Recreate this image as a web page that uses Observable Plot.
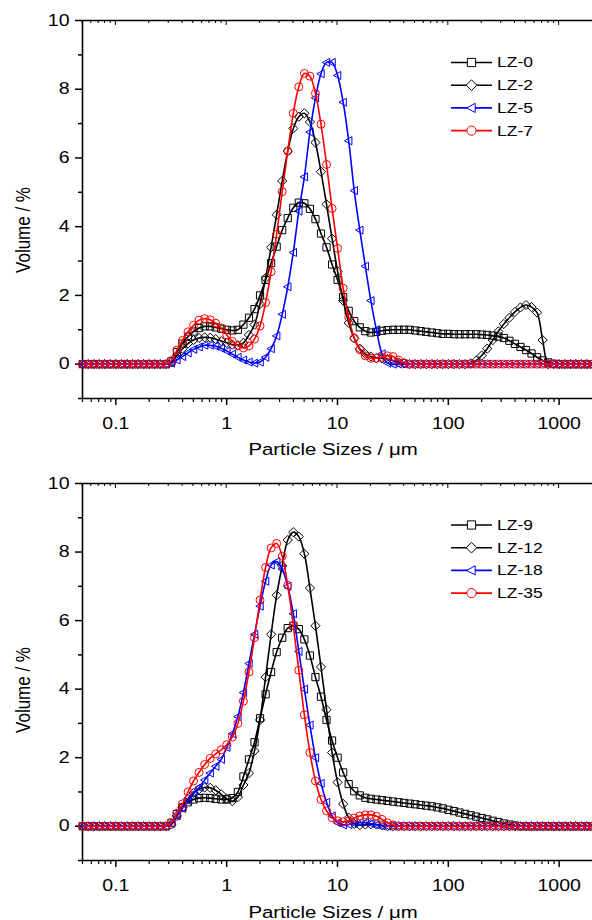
<!DOCTYPE html>
<html><head><meta charset="utf-8">
<script src="https://cdn.jsdelivr.net/npm/d3@7"></script>
<script src="https://cdn.jsdelivr.net/npm/@observablehq/plot@0.6"></script>
<style>body{margin:0;background:#fff} #chart svg{display:block}</style>
</head><body><div id="chart"></div>
<script>
// particle size grid (µm)
const sizes = [
0.0502,0.0564,0.0632,0.0710,0.0796,0.0893,0.1002,0.1125,0.1262,0.1416,
0.1589,0.1783,0.2000,0.2244,0.2518,0.2825,0.3170,0.3557,0.3991,0.4477,
0.5024,0.5637,0.6325,0.7096,0.7962,0.8934,1.002,1.125,1.262,1.416,
1.589,1.783,2.000,2.244,2.518,2.825,3.170,3.557,3.991,4.477,
5.024,5.637,6.325,7.096,7.962,8.934,10.02,11.25,12.62,14.16,
15.89,17.83,20.00,22.44,25.18,28.25,31.70,35.57,39.91,44.77,
50.24,56.37,63.25,70.96,79.62,89.34,100.2,112.5,126.2,141.6,
158.9,178.3,200.0,224.4,251.8,282.5,317.0,355.7,399.1,447.7,
502.4,563.7,632.5,709.6,796.2,893.4,1002,1125,1262,1416,
1589,1783,2000];

// top panel (Volume %)
const lz0 = [
0,0,0,0,0,0,0,0,0,0,
0,0,0,0,0,0,0.08,0.35,0.6,0.8,
0.95,1.05,1.1,1.1,1.07,1.03,1.0,0.98,1.0,1.15,
1.35,1.6,2.0,2.45,2.94,3.42,3.9,4.25,4.55,4.7,
4.68,4.52,4.22,3.8,3.4,2.9,2.45,1.95,1.55,1.25,
1.07,0.96,0.92,0.94,0.97,0.99,1.0,1.0,1.0,1.0,
0.98,0.96,0.94,0.92,0.9,0.88,0.88,0.87,0.87,0.87,
0.87,0.87,0.86,0.85,0.83,0.8,0.76,0.68,0.59,0.5,
0.41,0.31,0.2,0.11,0.05,0.01,0,0,0,0,
0,0,0];
const lz2 = [
0,0,0,0,0,0,0,0,0,0,
0,0,0,0,0,0,0.05,0.25,0.45,0.6,
0.7,0.76,0.78,0.77,0.73,0.67,0.62,0.57,0.55,0.62,
0.85,1.15,1.75,2.5,3.4,4.35,5.33,6.2,6.86,7.2,
7.3,7.05,6.45,5.6,4.65,3.65,2.7,1.85,1.2,0.75,
0.45,0.3,0.22,0.18,0.17,0.15,0.1,0.05,0.02,0,
0,0,0,0,0,0,0,0,0,0,
0.02,0.1,0.25,0.45,0.7,0.95,1.17,1.35,1.52,1.65,
1.72,1.66,1.5,0.7,0,0,0,0,0,0,
0,0,0];
const lz5 = [
0,0,0,0,0,0,0,0,0,0,
0,0,0,0,0,0,0.03,0.12,0.22,0.33,
0.43,0.5,0.55,0.55,0.52,0.46,0.38,0.29,0.2,0.12,
0.06,0.03,0.06,0.2,0.45,0.82,1.45,2.25,3.25,4.45,
5.45,6.75,7.75,8.45,8.78,8.78,8.4,7.62,6.5,5.05,
3.9,2.85,1.85,1.0,0.3,0.03,0,0,0,0,
0,0,0,0,0,0,0,0,0,0,
0,0,0,0,0,0,0,0,0,0,
0,0,0,0,0,0,0,0,0,0,
0,0,0];
const lz7 = [
0,0,0,0,0,0,0,0,0,0,
0,0,0,0,0,0,0.1,0.41,0.69,0.94,
1.13,1.28,1.32,1.29,1.19,1.05,0.85,0.66,0.53,0.47,
0.53,0.73,1.11,1.79,2.69,3.78,5.02,6.2,7.3,8.07,
8.46,8.38,7.88,6.98,5.81,4.53,3.37,2.21,1.36,0.76,
0.42,0.24,0.17,0.17,0.2,0.24,0.22,0.12,0.04,0,
0,0,0,0,0,0,0,0,0,0,
0,0,0,0,0,0,0,0,0,0,
0,0,0,0,0,0,0,0,0,0,
0,0,0];

// bottom panel (Volume %)
const lz9 = [
0,0,0,0,0,0,0,0,0,0,
0,0,0,0,0,0,0.1,0.35,0.55,0.7,
0.78,0.82,0.83,0.82,0.8,0.78,0.78,0.82,1.0,1.45,
1.95,2.45,3.15,3.85,4.5,5.08,5.5,5.78,5.85,5.75,
5.45,4.98,4.35,3.78,3.1,2.5,2.0,1.57,1.23,1.02,
0.9,0.83,0.8,0.78,0.76,0.74,0.72,0.7,0.68,0.66,
0.64,0.62,0.6,0.58,0.55,0.52,0.48,0.44,0.4,0.36,
0.32,0.28,0.24,0.2,0.16,0.12,0.08,0.05,0.02,0,
0,0,0,0,0,0,0,0,0,0,
0,0,0];
const lz12 = [
0,0,0,0,0,0,0,0,0,0,
0,0,0,0,0,0,0.05,0.3,0.55,0.8,
0.97,1.08,1.13,1.12,1.05,0.93,0.8,0.73,0.85,1.2,
1.55,2.2,3.1,4.35,5.6,6.74,7.6,8.35,8.58,8.45,
7.95,6.95,5.85,4.65,3.4,2.15,1.28,0.65,0.25,0.07,
0.03,0.05,0.06,0.05,0.03,0,0,0,0,0,
0,0,0,0,0,0,0,0,0,0,
0,0,0,0,0,0,0,0,0,0,
0,0,0,0,0,0,0,0,0,0,
0,0,0];
const lz18 = [
0,0,0,0,0,0,0,0,0,0,
0,0,0,0,0,0,0.08,0.3,0.52,0.75,
0.95,1.13,1.35,1.55,1.75,1.95,2.3,2.7,3.2,3.9,
4.75,5.6,6.42,7.15,7.62,7.72,7.5,7.0,6.2,5.1,
4.0,2.95,2.0,1.25,0.7,0.3,0.1,0.04,0.05,0.08,
0.1,0.1,0.08,0.04,0.01,0,0,0,0,0,
0,0,0,0,0,0,0,0,0,0,
0,0,0,0,0,0,0,0,0,0,
0,0,0,0,0,0,0,0,0,0,
0,0,0];
const lz35 = [
0,0,0,0,0,0,0,0,0,0,
0,0,0,0,0,0,0.1,0.38,0.65,1.0,
1.32,1.57,1.8,1.98,2.11,2.23,2.38,2.6,3.0,3.65,
4.5,5.5,6.6,7.55,8.12,8.25,7.88,7.03,5.85,4.55,
3.25,2.15,1.32,0.78,0.45,0.25,0.16,0.13,0.16,0.24,
0.3,0.33,0.33,0.29,0.2,0.1,0.04,0,0,0,
0,0,0,0,0,0,0,0,0,0,
0,0,0,0,0,0,0,0,0,0,
0,0,0,0,0,0,0,0,0,0,
0,0,0];

const topNames = ["LZ-0","LZ-2","LZ-5","LZ-7"];
const botNames = ["LZ-9","LZ-12","LZ-18","LZ-35"];
const colors = ["#000000","#000000","#0000ff","#ff0000"];
const yTicks = [0,2,4,6,8,10];
const yMinor = [-1,1,3,5,7,9];
const xTicks = [0.1,1,10,100,1000];
const xTickLabels = ["0.1","1","10","100","1000"];
const xTitle = "Particle Sizes / \u03bcm";
const yTitle = "Volume / %";

// minor log ticks
const xMinor = [];
for (const dec of [0.01,0.1,1,10,100,1000]) for (let m = 2; m <= 9; m++) {
  const v = +(dec*m).toPrecision(3);
  if (v >= 0.05 && v < 2000) xMinor.push(v);
}

// hollow marker shapes
const symSquare = {draw(c, s){ const r = Math.sqrt(s/Math.PI), h = 0.9*r;
  c.moveTo(-h,-h); c.lineTo(h,-h); c.lineTo(h,h); c.lineTo(-h,h); c.closePath(); }};
const symDiamond = {draw(c, s){ const r = Math.sqrt(s/Math.PI), h = 1.15*r;
  c.moveTo(0,-h); c.lineTo(h,0); c.lineTo(0,h); c.lineTo(-h,0); c.closePath(); }};
const symTriLeft = {draw(c, s){ const r = Math.sqrt(s/Math.PI);
  c.moveTo(-1.05*r,0); c.lineTo(0.8*r,-r); c.lineTo(0.8*r,r); c.closePath(); }};
const symCircle = {draw(c, s){ const r = Math.sqrt(s/Math.PI);
  c.moveTo(r,0); c.arc(0,0,r,0,2*Math.PI); c.closePath(); }};
const symbols = [symSquare, symDiamond, symTriLeft, symCircle];

const FONT = '"Liberation Sans", Arial, sans-serif';
const measureCtx = document.createElement("canvas").getContext("2d");
function stretchText(svg, s, size) {
  measureCtx.font = `${size}px "Liberation Sans", Arial, sans-serif`;
  svg.querySelectorAll("text").forEach(t => {
    const str = t.textContent;
    if (!str) return;
    const w = measureCtx.measureText(str).width;
    t.setAttribute("textLength", (w * s).toFixed(2));
    t.setAttribute("lengthAdjust", "spacingAndGlyphs");
  });
}

function panel(series, names, mt, mb, legendY0, titleY) {
  const marks = [
    Plot.ruleY([-1], {stroke: "#000", strokeWidth: 1.6}),
    Plot.ruleY([10], {stroke: "#000", strokeWidth: 1.6}),
    Plot.ruleX([0.05], {stroke: "#000", strokeWidth: 1.6}),
    Plot.axisY({ticks: yTicks, tickSize: 7, tickPadding: 6, tickFormat: d => String(d), label: null, strokeWidth: 1.5}),
    Plot.axisY({ticks: yMinor, tickSize: 4, tickPadding: 6, tickFormat: () => "", label: null, strokeWidth: 1.5}),
    Plot.axisX({ticks: xTicks, tickSize: 7, tickPadding: 12, tickFormat: d => xTickLabels[xTicks.indexOf(d)], label: null, strokeWidth: 1.5}),
    Plot.axisX({ticks: xMinor, tickSize: 4, tickPadding: 12, tickFormat: () => "", label: null, strokeWidth: 1.2})
  ];
  series.forEach((vals, k) => {
    const data = sizes.map((s, i) => ({s, v: vals[i]}));
    marks.push(Plot.line(data, {x: "s", y: "v", stroke: colors[k], strokeWidth: 1.6, curve: "catmull-rom"}));
    marks.push(Plot.dot(data, {x: "s", y: "v", stroke: colors[k], fill: "none", symbol: symbols[k], r: 4, strokeWidth: 1}));
  });
  const chart = Plot.plot({
    width: 592, height: 460,
    marginLeft: 82, marginRight: 0, marginTop: mt, marginBottom: mb,
    x: {type: "log", domain: [0.05, 2000]},
    y: {domain: [-1, 10]},
    style: {fontFamily: FONT, fontSize: "16px", background: "white", color: "black", overflow: "visible"},
    marks
  });
  stretchText(chart, 1.22, 16);
  const svg = d3.select(chart);
  const xs = chart.scale("x");
  // inward ticks on top frame
  const tg = svg.append("g").attr("stroke", "#000").attr("stroke-width", 1);
  for (const v of xMinor.concat(xTicks)) {
    const px = xs.apply(v);
    tg.append("line").attr("x1", px).attr("x2", px).attr("y1", mt).attr("y2", mt + (xTicks.includes(v) ? 5 : 3));
  }
  // legend
  const lg = svg.append("g").attr("text-anchor", "start");
  names.forEach((n, k) => {
    const y = legendY0 + k * 22.7;
    lg.append("line").attr("x1", 451).attr("x2", 492).attr("y1", y).attr("y2", y)
      .attr("stroke", colors[k]).attr("stroke-width", 1.6);
    lg.append("path").attr("d", d3.symbol(symbols[k], Math.PI * 4.6 * 4.6)())
      .attr("transform", `translate(471.5,${y})`).attr("fill", "white").attr("stroke", colors[k]).attr("stroke-width", 1);
    lg.append("text").attr("transform", `translate(497,${y}) scale(1.25,1)`).attr("dy", "0.35em")
      .attr("text-anchor", "start").attr("font-size", 14).attr("fill", "#000").text(n);
  });
  // axis titles
  svg.append("text").attr("transform", `translate(333,${titleY}) scale(1.2,1)`)
    .attr("text-anchor", "middle").attr("font-size", 17).attr("fill", "#000").text(xTitle);
  svg.append("text").attr("transform", "translate(29.5,230) rotate(-90) scale(1,1.15)")
    .attr("text-anchor", "middle").attr("font-size", 17).attr("fill", "#000").text(yTitle);
  return chart;
}

const root = document.getElementById("chart");
root.appendChild(panel([lz0, lz2, lz5, lz7], topNames, 20, 62, 62.5, 455));
root.appendChild(panel([lz9, lz12, lz18, lz35], botNames, 23, 60, 65, 458));
</script>
</body></html>
